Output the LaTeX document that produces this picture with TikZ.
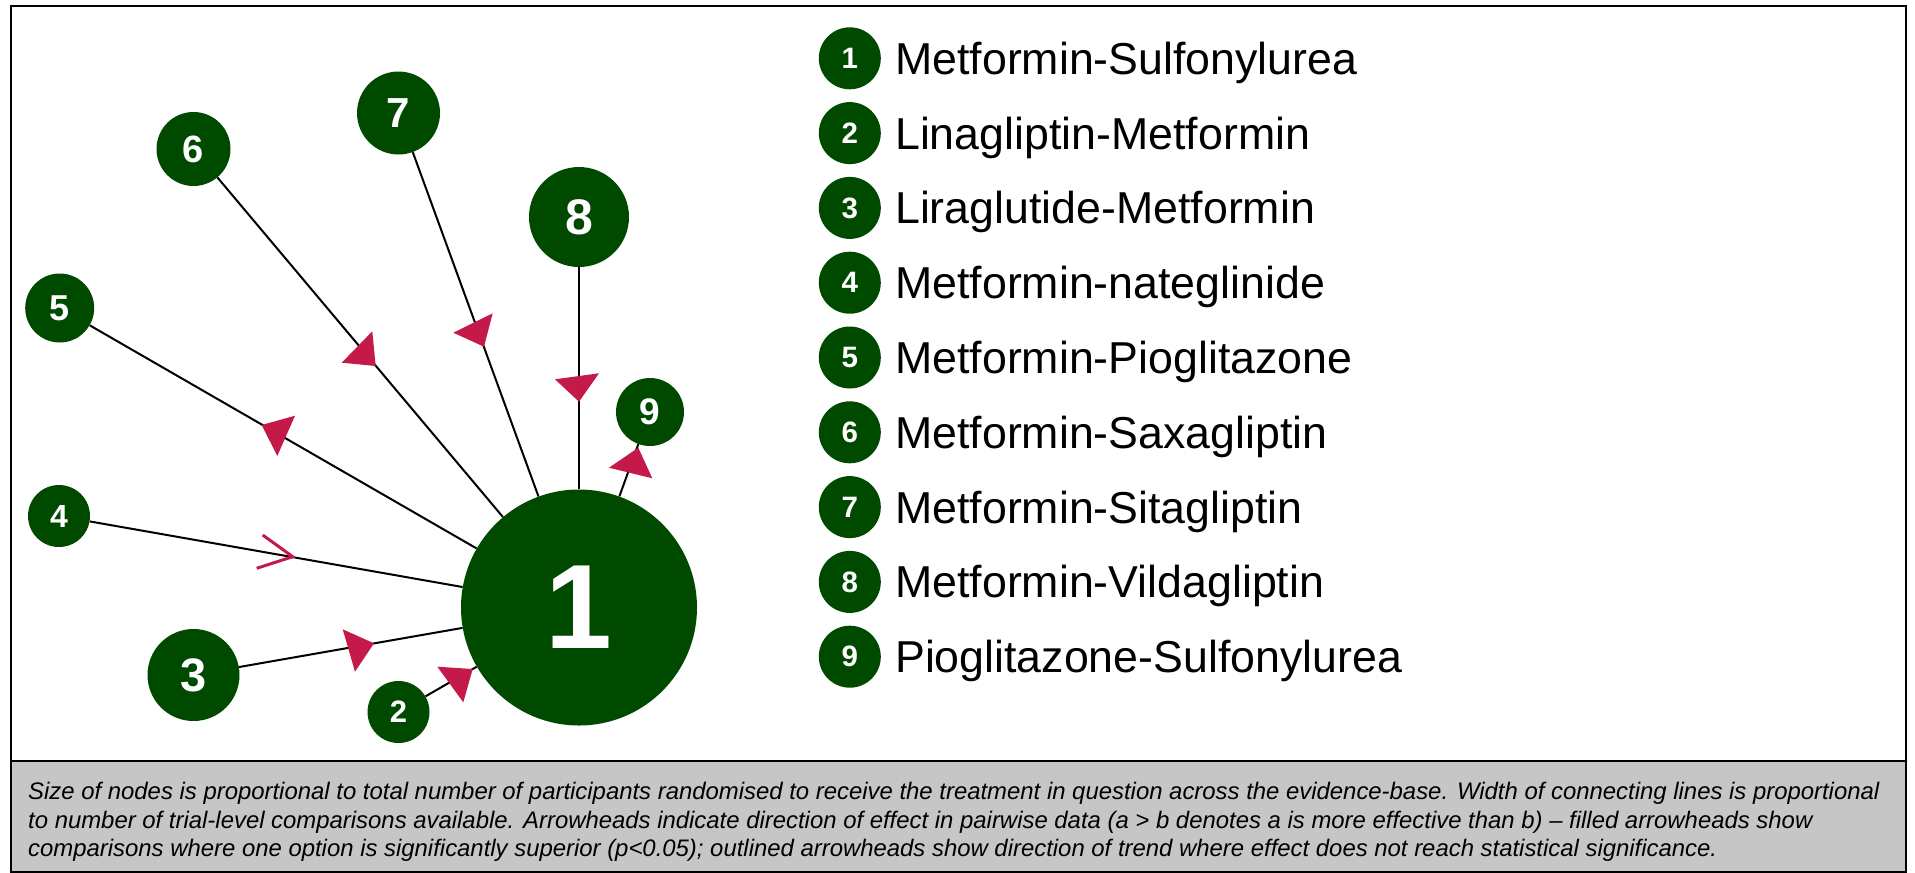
\documentclass[tikz,border=0pt]{standalone}
\usepackage{fontspec}
\setmainfont{Liberation Sans}
\definecolor{ngreen}{RGB}{0,74,0}
\definecolor{acol}{RGB}{196,26,74}
\definecolor{capgray}{RGB}{198,198,198}
\begin{document}
\begin{tikzpicture}[x=1pt,y=-1pt,
  tnode/.style={circle, fill=ngreen, inner sep=0pt, text=white},
  nd/.style 2 args={tnode, minimum size=#1, font=\bfseries\fontsize{#2}{#2}\selectfont},
  edge/.style={line width=2pt, black},
  ahead/.style={fill=acol},
  aopen/.style={draw=acol, line width=3pt},
  legtext/.style={anchor=base west, inner sep=0pt, font=\fontsize{44.7}{44.7}\selectfont},
  captext/.style={anchor=base west, inner sep=0pt, font=\itshape\fontsize{23.9}{23.9}\selectfont}]
\useasboundingbox (0,0) rectangle (1915,873);
% caption area
\fill[capgray] (11,761) rectangle (1906,872);
\draw[line width=2pt] (11,761) -- (1906,761);
\draw[line width=2pt] (11,6) rectangle (1906,872);

% network nodes
\node[nd={236pt}{120}] (n1) at (579,607.5) {1};
\node[nd={62pt}{31}] (n2) at (398.5,712) {2};
\node[nd={92pt}{47}] (n3) at (193.5,675) {3};
\node[nd={62pt}{32}] (n4) at (59,516) {4};
\node[nd={69pt}{36}] (n5) at (59.7,308) {5};
\node[nd={74pt}{38}] (n6) at (193.5,149) {6};
\node[nd={83pt}{42}] (n7) at (398.5,113) {7};
\node[nd={100pt}{50}] (n8) at (579,217) {8};
\node[nd={68pt}{37}] (n9) at (650,412) {9};

% connectors
\foreach \k in {2,...,9} { \draw[edge] (n1) -- (n\k); }

% arrowheads (filled = significant, outlined = trend)
\fill[ahead] (579,401.7) -- (555,379.3) -- (599,373.3) -- cycle;
\fill[ahead] (484,346.7) -- (453.3,332.7) -- (492.7,313.3) -- cycle;
\fill[ahead] (375.7,366) -- (341.7,362.7) -- (372.3,331.3) -- cycle;
\fill[ahead] (261.7,425) -- (295,415.7) -- (277.3,456) -- cycle;
\draw[aopen] (262.7,535) -- (292.7,556.7) -- (256.7,568.3);
\fill[ahead] (374,643.3) -- (342.7,629.3) -- (355,671.7) -- cycle;
\fill[ahead] (472.7,669) -- (437.3,666.7) -- (463.3,702.3) -- cycle;
\fill[ahead] (638.3,447.7) -- (609,467.7) -- (652.3,478.3) -- cycle;

% legend
\foreach \k/\name in {1/Metformin-Sulfonylurea,2/Linagliptin-Metformin,3/Liraglutide-Metformin,4/Metformin-nateglinide,5/Metformin-Pioglitazone,6/Metformin-Saxagliptin,7/Metformin-Sitagliptin,8/Metformin-Vildagliptin,9/Pioglitazone-Sulfonylurea} {
  \node[nd={62pt}{29.5}] (l\k) at (849.8,{58.3+74.8*(\k-1)}) {\k};
  \node[legtext] (t\k) at (895,{74.3+74.8*(\k-1)}) {\name};
}

% caption
\node[captext] (c1) at (28,799) {Size of nodes is proportional to total number of participants randomised to receive the treatment in question across the evidence-base. Width of connecting lines is proportional};
\node[captext] (c2) at (28,828) {to number of trial-level comparisons available. Arrowheads indicate direction of effect in pairwise data (a > b denotes a is more effective than b) – filled arrowheads show};
\node[captext] (c3) at (28,856) {comparisons where one option is significantly superior (p<0.05); outlined arrowheads show direction of trend where effect does not reach statistical significance.};
\end{tikzpicture}
\end{document}
